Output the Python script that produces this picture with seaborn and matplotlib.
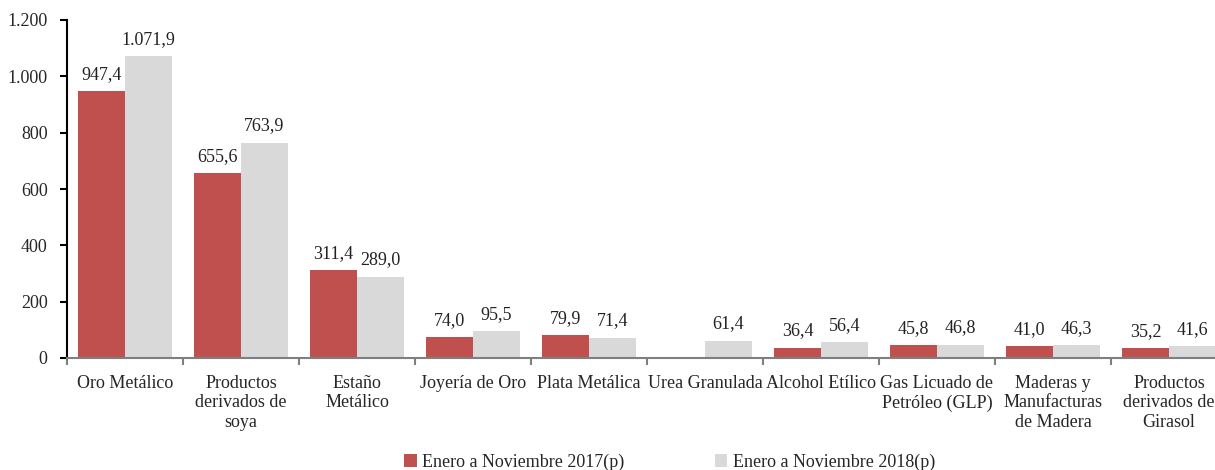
import numpy as np
import pandas as pd
import seaborn as sns
import matplotlib.pyplot as plt
from matplotlib.ticker import FuncFormatter, FixedLocator

productos = ["Oro Metálico", "Productos\nderivados de\nsoya", "Estaño\nMetálico",
             "Joyería de Oro", "Plata Metálica", "Urea Granulada", "Alcohol Etílico",
             "Gas Licuado de\nPetróleo (GLP)", "Maderas y\nManufacturas\nde Madera",
             "Productos\nderivados de\nGirasol"]
serie_2017 = [947.4, 655.6, 311.4, 74.0, 79.9, np.nan, 36.4, 45.8, 41.0, 35.2]
serie_2018 = [1071.9, 763.9, 289.0, 95.5, 71.4, 61.4, 56.4, 46.8, 46.3, 41.6]
periodos = ["Enero a Noviembre 2017(p)", "Enero a Noviembre 2018(p)"]
colores = ["#C0504D", "#D9D9D9"]

df = pd.DataFrame({
    "producto": productos * 2,
    "valor": serie_2017 + serie_2018,
    "periodo": [periodos[0]] * len(productos) + [periodos[1]] * len(productos),
})
df = df.dropna()


def es_num(v, dec=1):
    s = f"{v:,.{dec}f}"
    return s.replace(",", "X").replace(".", ",").replace("X", ".")


sns.set_style("white")
plt.rcParams['font.family'] = ['Liberation Serif', 'DejaVu Serif']

fig = plt.figure(figsize=(12.15, 4.70), dpi=100)
ax = fig.add_axes([67 / 1215, 1 - 358 / 470, 1160 / 1215, (358 - 20) / 470])

sns.barplot(data=df, x="producto", y="valor", hue="periodo", order=productos,
            hue_order=periodos, palette=colores, width=0.81, saturation=1,
            errorbar=None, ax=ax, legend=True, linewidth=0)

for cont in ax.containers:
    labels = [es_num(b.get_height()) if b.get_height() > 0 else "" for b in cont]
    ax.bar_label(cont, labels=labels, padding=6, fontsize=13, color="#222222")

ax.set_xlim(-0.5, len(productos) - 0.5)
ax.set_ylim(0, 1200)
ax.set_yticks(range(0, 1201, 200))
ax.yaxis.set_major_formatter(FuncFormatter(lambda v, p: es_num(v, 0)))
ax.set_xlabel("")
ax.set_ylabel("")

for s in ["top", "right"]:
    ax.spines[s].set_visible(False)
ax.spines["left"].set_color("black")
ax.spines["left"].set_linewidth(1.5)
ax.spines["bottom"].set_color("#7F7F7F")
ax.spines["bottom"].set_linewidth(1.5)

ax.tick_params(axis="y", direction="out", length=5, width=1.5, color="black",
               labelsize=13, left=True, pad=9)
ax.tick_params(axis="x", which="major", length=0, labelsize=13, pad=12)
ax.xaxis.set_minor_locator(FixedLocator(np.arange(-0.5, len(productos), 1.0)))
ax.tick_params(axis="x", which="minor", direction="out", length=5, width=1.5,
               color="#7F7F7F", bottom=True)
for t in ax.get_xticklabels():
    t.set_linespacing(1.2)

ax.legend_.remove()
handles, lbls = ax.get_legend_handles_labels()
fig.legend(handles, lbls, loc="lower center", bbox_to_anchor=(0.551, -0.037),
           ncol=2, frameon=False, fontsize=13, handlelength=0.7, handleheight=0.7,
           handletextpad=0.3, columnspacing=5.0)

fig.savefig("out.png", dpi=100)
